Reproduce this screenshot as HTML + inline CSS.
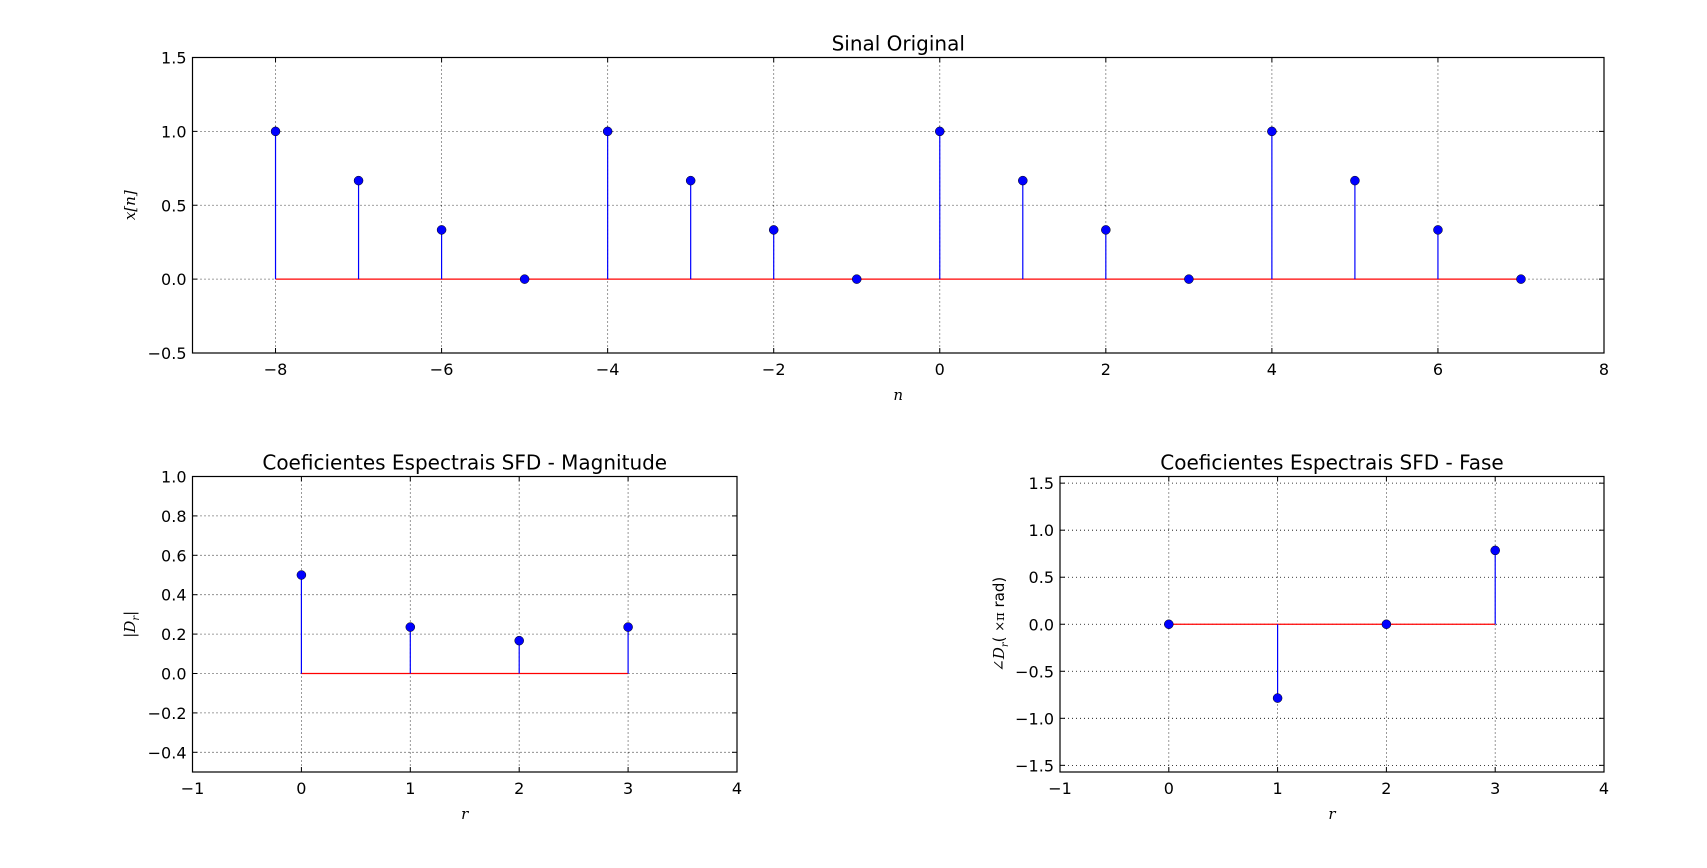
<!DOCTYPE html>
<html><head><meta charset="utf-8"><style>
body{margin:0;background:#fff;width:1707px;height:863px;overflow:hidden}
svg{font-family:"DejaVu Sans","Liberation Sans",sans-serif}
</style></head><body>
<svg id="fig" width="1707" height="863" xmlns="http://www.w3.org/2000/svg"></svg>
<script>
const nVals=[-8,-7,-6,-5,-4,-3,-2,-1,0,1,2,3,4,5,6,7];
const xVals=[1,0.6667,0.3333,0,1,0.6667,0.3333,0,1,0.6667,0.3333,0,1,0.6667,0.3333,0];
const rVals=[0,1,2,3];
const magVals=[0.5,0.2357,0.1667,0.2357];
const phaseVals=[0,-0.785,0,0.785];
const topXTicks=[-8,-6,-4,-2,0,2,4,6,8];
const topYTicks=[-0.5,0,0.5,1.0,1.5];
const rTicks=[-1,0,1,2,3,4];
const magYTicks=[-0.4,-0.2,0,0.2,0.4,0.6,0.8,1.0];
const phYTicks=[-1.5,-1.0,-0.5,0,0.5,1.0,1.5];
const NS="http://www.w3.org/2000/svg";
const svg=document.getElementById('fig');
function el(t,a,p){const e=document.createElementNS(NS,t);for(const k in a)e.setAttribute(k,a[k]);(p||svg).appendChild(e);return e;}
function fmt(v,d){let s=v.toFixed(d);return s.replace('-','\u2212');}
function panel(name,box,xr,yr,xt,yt,xd,yd,xs,ys,title,xlab,ylab,dec){
  const g=el('g',{});
  
  
  const X=v=>box.l+(v-xr[0])/(xr[1]-xr[0])*(box.r-box.l);
  const Y=v=>box.b-(v-yr[0])/(yr[1]-yr[0])*(box.b-box.t);
  xt.forEach(v=>{const x=X(v);if(x>box.l+1&&x<box.r-1){const l=el('line',{x1:x,x2:x,y1:box.t,y2:box.b,stroke:'#000','stroke-width':0.8,'stroke-dasharray':'1,3'},g);}});
  yt.forEach(v=>{const y=Y(v);if(y>box.t+1&&y<box.b-1){const l=el('line',{x1:box.l,x2:box.r,y1:y,y2:y,stroke:'#000','stroke-width':0.8,'stroke-dasharray':'1,3'},g);}});
  const bl=el('line',{x1:X(xd[0]),x2:X(xd[xd.length-1]),y1:Y(0),y2:Y(0),stroke:'#ff0000','stroke-width':1.2},g);
  
  xd.forEach((v,i)=>{
    const s=el('line',{x1:X(v),x2:X(v),y1:Y(0),y2:Y(yd[i]),stroke:'#0000ff','stroke-width':1.2},g);
    
    const c=el('circle',{cx:X(v),cy:Y(yd[i]),r:4.5,fill:'#0000ff',stroke:'#000','stroke-width':0.5},g);
    
  });
  const fr=el('rect',{x:box.l,y:box.t,width:box.r-box.l,height:box.b-box.t,fill:'none',stroke:'#000','stroke-width':1.2},g);
  
  xt.forEach(v=>{const x=X(v);
    el('line',{x1:x,x2:x,y1:box.b,y2:box.b-5,stroke:'#000'},g);el('line',{x1:x,x2:x,y1:box.t,y2:box.t+5,stroke:'#000'},g);
    const t=el('text',{x:x,y:box.b+22,'text-anchor':'middle','font-size':16},g);t.textContent=fmt(v,0);
    });
  yt.forEach(v=>{const y=Y(v);
    el('line',{x1:box.l,x2:box.l+5,y1:y,y2:y,stroke:'#000'},g);el('line',{x1:box.r,x2:box.r-5,y1:y,y2:y,stroke:'#000'},g);
    const t=el('text',{x:box.l-6,y:y+6,'text-anchor':'end','font-size':16},g);t.textContent=fmt(v,1);
    });
  const tt=el('text',{x:(box.l+box.r)/2,y:box.t-7,'text-anchor':'middle','font-size':20},g);tt.textContent=title;
  
  const xl=el('text',{x:(box.l+box.r)/2,y:box.b+47,'text-anchor':'middle','font-size':15,'font-style':'italic','font-family':'"DejaVu Serif","Liberation Serif",serif'},g);xl.textContent=xlab;
  
  const yl=el('text',{x:0,y:0,'text-anchor':'middle','font-size':15,transform:`translate(${ylab[1]},${(box.t+box.b)/2}) rotate(-90)`},g);
  yl.innerHTML=ylab[0];
  
}
panel('signal-panel',{l:192.5,r:1604,t:57.5,b:353},[-9,8],[-0.5,1.5],topXTicks,topYTicks,nVals,xVals,0,0,'Sinal Original','n',['<tspan font-style="italic" font-family="DejaVu Serif,serif">x[n]</tspan>',135]);
panel('magnitude-panel',{l:192.5,r:737,t:476.5,b:772},[-1,4],[-0.5,1.0],rTicks,magYTicks,rVals,magVals,0,0,'Coeficientes Espectrais SFD - Magnitude','r',['<tspan font-style="italic" font-family="DejaVu Serif,serif">|D<tspan font-size="10" dy="4">r</tspan><tspan dy="-4">|</tspan></tspan>',135]);
panel('phase-panel',{l:1060,r:1604,t:476.5,b:772},[-1,4],[-1.5708,1.5708],rTicks,phYTicks,rVals,phaseVals,0,0,'Coeficientes Espectrais SFD - Fase','r',['<tspan font-style="italic" font-family="DejaVu Serif,serif">∠D<tspan font-size="10" dy="4">r</tspan></tspan><tspan dy="-4">( </tspan><tspan font-family="DejaVu Serif,serif" font-size="13">×π</tspan> rad)',1004]);
</script>
</body></html>
